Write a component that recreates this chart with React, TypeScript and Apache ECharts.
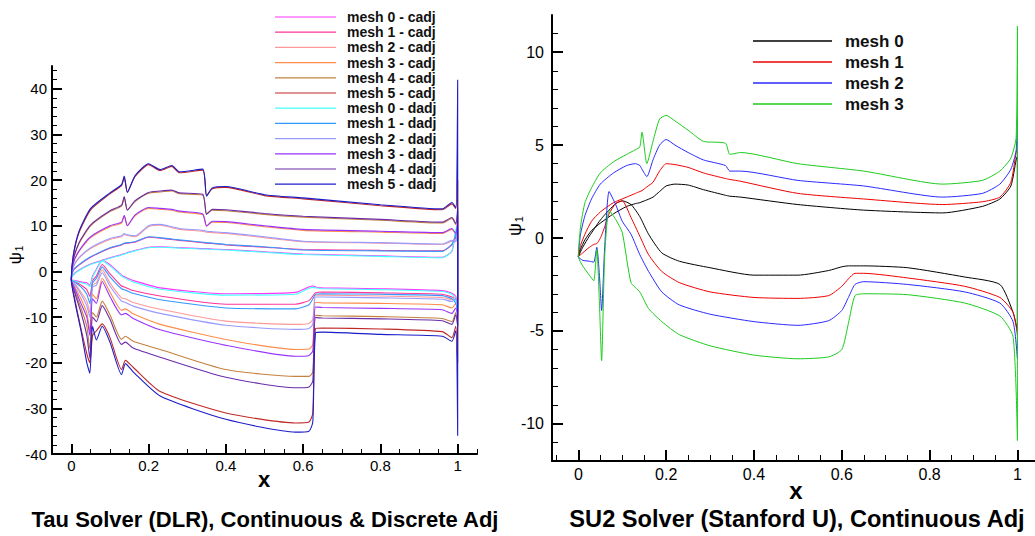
import React, { useEffect, useRef } from 'react';
import * as echarts from 'echarts';

const FONT = 'Arial, "Liberation Sans", Helvetica, sans-serif';

// ---------- tick labels ----------
const xMajor = [0, 0.2, 0.4, 0.6, 0.8, 1];
const xMinor = [-0.05, 0.05, 0.1, 0.15, 0.25, 0.3, 0.35, 0.45, 0.5, 0.55, 0.65, 0.7, 0.75, 0.85, 0.9, 0.95, 1.05];
const yMajorL = [-40, -30, -20, -10, 0, 10, 20, 30, 40];
const yMinorL = [-38, -36, -34, -32, -28, -26, -24, -22, -18, -16, -14, -12, -8, -6, -4, -2, 2, 4, 6, 8, 12, 14, 16, 18, 22, 24, 26, 28, 32, 34, 36, 38, 42, 44];
const yMajorR = [-10, -5, 0, 5, 10];
const yMinorR = [-11, -9, -8, -7, -6, -4, -3, -2, -1, 1, 2, 3, 4, 6, 7, 8, 9, 11];

// ---------- left chart (Tau) ----------
const leftNames = [
  'mesh 0 - cadj', 'mesh 1 - cadj', 'mesh 2 - cadj', 'mesh 3 - cadj', 'mesh 4 - cadj', 'mesh 5 - cadj',
  'mesh 0 - dadj', 'mesh 1 - dadj', 'mesh 2 - dadj', 'mesh 3 - dadj', 'mesh 4 - dadj', 'mesh 5 - dadj',
];
const leftColors = [
  '#ff33ff', '#ff3399', '#ff9999', '#ff8c4a', '#c4813f', '#c02828',
  '#44ffff', '#3399ff', '#9999ff', '#9933ff', '#6a2ca8', '#1c1cc8',
];

const xUpL = [0, 0.005, 0.02, 0.05, 0.1, 0.13, 0.137, 0.145, 0.165, 0.2, 0.23, 0.26, 0.28, 0.34, 0.35, 0.365, 0.4, 0.5, 0.6, 0.8, 0.96, 0.985, 0.995, 1];
const xLoL = [0, 0.01, 0.025, 0.04, 0.048, 0.055, 0.065, 0.08, 0.1, 0.13, 0.14, 0.16, 0.23, 0.4, 0.58, 0.615, 0.625, 0.632, 0.65, 0.8, 0.96, 0.985, 0.995, 1];

const cadj0Up = [-1.8, -0.7, 0.3, 1.6, 3.0, 3.7, 3.9, 4.1, 4.6, 5.3, 5.4, 5.3, 5.2, 5.0, 5.0, 4.9, 4.8, 4.3, 3.8, 3.4, 3.1, 4.4, 8.8, 9.5];
const cadj1Up = [-1.8, 0.2, 1.4, 3.1, 5.1, 5.8, 6.1, 6.2, 6.4, 7.5, 7.3, 7.0, 6.8, 6.3, 6.2, 6.1, 5.8, 5.3, 4.8, 4.6, 4.5, 5.8, 7.5, 9];
const cadj2Up = [-1.8, 0.9, 2.9, 5.0, 7.0, 7.6, 8.1, 7.9, 7.6, 9.8, 10.1, 9.6, 9.2, 8.8, 8.6, 8.5, 8.3, 7.4, 6.5, 6.2, 5.9, 6.6, 6.8, 8];
const cadj3Up = [-1.8, 1.7, 4.4, 7.4, 9.8, 10.6, 12.1, 10.1, 12.2, 13.8, 13.6, 13.4, 13.0, 12.4, 10.0, 10.8, 10.7, 9.8, 9.0, 8.6, 8.3, 9.2, 8.1, 11];
const cadj4Up = [-1.8, 2.4, 6.1, 10.0, 13.1, 14.3, 16.2, 13.5, 15.3, 17.1, 17.4, 17.6, 17.0, 16.7, 12.6, 13.4, 13.3, 12.5, 11.9, 11.2, 10.6, 11.6, 10.3, 13];
const cadj5Up = [-1.8, 3.3, 8.5, 13.5, 17.0, 18.8, 20.6, 17.4, 20.8, 23.4, 22.1, 23.0, 21.6, 22.2, 16.6, 18.1, 18.4, 16.6, 15.9, 14.4, 13.5, 14.8, 13.8, 20];
const dadj0Up = [-1.8, -0.8, 0.2, 1.5, 2.9, 3.6, 3.8, 4.0, 4.5, 5.2, 5.3, 5.2, 5.1, 4.9, 4.9, 4.8, 4.7, 4.2, 3.7, 3.3, 3.0, 4.5, 9.2, 10];
const dadj1Up = [-1.8, 0.3, 1.5, 3.2, 5.2, 5.9, 6.2, 6.3, 6.5, 7.6, 7.4, 7.1, 6.9, 6.4, 6.3, 6.2, 5.9, 5.4, 4.7, 4.5, 4.4, 6.0, 8.0, 9.5];
const dadj2Up = [-1.8, 1.0, 3.0, 5.2, 7.2, 7.8, 8.3, 8.0, 7.8, 10.0, 10.3, 9.8, 9.4, 9.0, 8.8, 8.7, 8.5, 7.6, 6.6, 6.3, 6.0, 6.8, 6.5, 9];
const dadj3Up = [-1.8, 1.8, 4.5, 7.6, 10.0, 10.8, 12.3, 10.0, 12.4, 14.0, 13.8, 13.6, 13.2, 12.6, 9.9, 11.0, 10.9, 10.0, 9.2, 8.8, 8.5, 9.4, 8.3, 12];
const dadj4Up = [-1.8, 2.5, 6.3, 10.2, 13.3, 14.5, 16.4, 13.4, 15.5, 17.3, 17.6, 17.8, 17.2, 16.9, 12.5, 13.6, 13.5, 12.7, 12.1, 11.4, 10.8, 11.8, 10.5, 14];
const dadj5Up = [-1.8, 3.5, 8.8, 13.8, 17.2, 19.0, 20.9, 17.3, 21.0, 23.6, 22.3, 23.2, 21.8, 22.4, 16.5, 18.3, 18.6, 16.8, 16.1, 14.6, 13.7, 15.1, 14.0, 42];

const cadj0Lo = [-1.8, -2.0, -2.3, -2.5, -3.0, -1.0, 0.5, 2.5, 1.5, -0.8, -1.3, -2.0, -3.6, -4.9, -4.6, -3.4, -3.2, -3.4, -3.6, -3.8, -4.2, -4.8, -5.5, -7];
const cadj1Lo = [-1.8, -2.2, -3.0, -4.0, -5.5, -2.0, -1.0, 1.5, -0.5, -3.2, -3.5, -4.2, -5.4, -7.2, -7.2, -6.4, -5.4, -4.7, -4.5, -4.7, -5.0, -5.6, -6, -8];
const cadj2Lo = [-1.8, -2.8, -4.5, -6.5, -9.0, -3.0, -2.5, 0.4, -2.5, -5.8, -6.0, -6.8, -8.3, -10.9, -11.6, -11.4, -10.5, -5.2, -5.2, -5.4, -5.7, -6.2, -5.5, -7];
const cadj3Lo = [-1.8, -3.5, -6.0, -9.0, -13.0, -5.0, -6.0, -1.5, -4.5, -8.5, -8.2, -9.3, -11.6, -14.9, -17.1, -17.0, -16.0, -6.8, -6.9, -7.0, -7.3, -8.0, -7.0, -9];
const cadj4Lo = [-1.8, -4.5, -8.0, -12.0, -17.0, -9.0, -10.0, -6.5, -9.5, -14.9, -14.2, -15.3, -17.1, -21.5, -23.0, -23.0, -22.0, -9.6, -9.7, -9.9, -10.3, -11.0, -9.0, -12];
const cadj5Lo = [-1.8, -6.5, -12.5, -18.0, -20.0, -14.0, -13.0, -11.5, -14.5, -21.5, -19.5, -21.0, -26.3, -31.0, -33.2, -33.0, -31.0, -12.5, -12.4, -12.6, -13.2, -14.5, -12.0, -20];
const dadj0Lo = [-1.8, -2.1, -2.5, -2.8, -3.3, -1.3, 0.3, 2.3, 1.2, -1.0, -1.5, -2.3, -3.9, -5.2, -5.0, -3.7, -3.5, -3.6, -3.8, -4.0, -4.4, -5.0, -6.5, -8.5];
const dadj1Lo = [-1.8, -2.4, -3.4, -5.0, -7.0, -2.5, -1.5, 1.0, -1.2, -3.8, -4.1, -4.8, -6.2, -8.0, -8.2, -7.3, -6.0, -5.0, -4.9, -5.0, -5.3, -6.0, -7, -9];
const dadj2Lo = [-1.8, -3.0, -5.0, -7.5, -10.0, -3.5, -3.0, -0.3, -3.2, -6.5, -6.8, -7.6, -9.2, -11.8, -12.7, -12.5, -11.6, -5.6, -5.6, -5.8, -6.1, -6.6, -6.0, -8];
const dadj3Lo = [-1.8, -4.0, -7.0, -10.0, -14.0, -6.0, -7.0, -2.2, -5.5, -9.5, -9.2, -10.3, -12.8, -16.2, -18.6, -18.4, -17.4, -7.8, -7.9, -8.1, -8.4, -9.2, -8.0, -10];
const dadj4Lo = [-1.8, -5.0, -9.0, -14.0, -19.0, -10.0, -11.0, -7.5, -10.5, -16.0, -15.5, -16.8, -18.8, -23.2, -25.5, -25.3, -24.0, -10.1, -10.2, -10.4, -10.8, -11.6, -9.5, -12];
const dadj5Lo = [-1.8, -7.0, -13.0, -20.0, -22.3, -12.0, -15.0, -12.0, -15.5, -22.6, -20.2, -22.0, -27.3, -32.4, -35.2, -35.0, -33.0, -13.5, -13.3, -13.8, -14.2, -15.3, -13.0, -36];

const leftUp = [cadj0Up, cadj1Up, cadj2Up, cadj3Up, cadj4Up, cadj5Up, dadj0Up, dadj1Up, dadj2Up, dadj3Up, dadj4Up, dadj5Up];
const leftLo = [cadj0Lo, cadj1Lo, cadj2Lo, cadj3Lo, cadj4Lo, cadj5Lo, dadj0Lo, dadj1Lo, dadj2Lo, dadj3Lo, dadj4Lo, dadj5Lo];

// ---------- right chart (SU2) ----------
const rightNames = ['mesh 0', 'mesh 1', 'mesh 2', 'mesh 3'];
const rightColors = ['#000000', '#ee0000', '#2a2aff', '#1ccc1c'];

const xUpR = [0, 0.005, 0.015, 0.03, 0.05, 0.08, 0.11, 0.13, 0.14, 0.145, 0.156, 0.17, 0.185, 0.2, 0.22, 0.25, 0.285, 0.335, 0.345, 0.37, 0.5, 0.65, 0.83, 0.92, 0.96, 0.985, 0.997, 1];
const xLoR = [0, 0.01, 0.025, 0.035, 0.042, 0.048, 0.053, 0.06, 0.07, 0.085, 0.1, 0.12, 0.14, 0.16, 0.19, 0.23, 0.3, 0.4, 0.5, 0.57, 0.6, 0.615, 0.63, 0.65, 0.75, 0.88, 0.96, 0.99, 1];

const m0Up = [-1.0, -0.6, -0.1, 0.4, 0.8, 1.3, 1.7, 1.85, 1.9, 1.95, 2.05, 2.2, 2.5, 2.8, 2.9, 2.85, 2.6, 2.3, 2.25, 2.2, 1.8, 1.5, 1.35, 1.7, 2.1, 2.8, 4.2, 4.4];
const m1Up = [-1.0, -0.4, 0.2, 0.9, 1.4, 1.9, 2.2, 2.4, 2.5, 2.55, 2.75, 3.0, 3.6, 4.0, 3.95, 3.8, 3.5, 3.2, 3.15, 3.05, 2.4, 2.1, 1.8, 1.95, 2.2, 3.0, 4.6, 4.8];
const m2Up = [-1.0, 0.2, 1.2, 2.1, 2.9, 3.5, 3.9, 4.0, 3.9, 3.7, 3.3, 4.2, 5.0, 5.3, 5.0, 4.6, 4.2, 3.9, 3.6, 3.6, 3.1, 2.8, 2.2, 2.4, 2.9, 3.7, 4.7, 6.4];
const m3Up = [-1.0, 0.6, 1.9, 2.7, 3.5, 4.1, 4.5, 4.75, 4.9, 5.7, 4.0, 5.2, 6.4, 6.6, 6.3, 5.8, 5.2, 5.1, 4.5, 4.6, 4.0, 3.6, 2.9, 3.1, 3.6, 4.3, 5.4, 11.4];

const m0Lo = [-1.0, -0.5, 0.1, 0.45, 0.7, 0.9, 1.05, 1.25, 1.5, 1.85, 2.0, 1.8, 1.15, 0.2, -0.8, -1.25, -1.6, -2.0, -2.0, -1.75, -1.55, -1.5, -1.5, -1.5, -1.6, -2.1, -2.5, -4.0, -5.0];
const m1Lo = [-1.0, -0.8, -0.5, -0.35, -0.3, -0.1, 0.15, 0.6, 1.3, 1.85, 2.0, 1.1, 0.1, -0.9, -1.8, -2.4, -2.9, -3.2, -3.25, -3.1, -2.6, -2.2, -1.9, -1.9, -2.15, -2.6, -3.2, -4.0, -5.2];
const m2Lo = [-1.0, -1.2, -1.25, -1.3, -0.5, -2.0, -3.9, -0.5, 2.5, 1.8, 0.9, 0.2, -0.9, -1.8, -2.9, -3.6, -4.1, -4.5, -4.7, -4.45, -3.9, -3.2, -2.5, -2.35, -2.5, -2.9, -3.5, -4.5, -6.5];
const m3Lo = [-1.0, -1.5, -2.0, -2.3, -0.6, -3.5, -6.6, -1.0, 1.5, 1.0, 0.3, -2.4, -2.9, -3.8, -4.5, -5.2, -5.8, -6.3, -6.5, -6.4, -6.0, -4.6, -3.1, -3.0, -3.05, -3.5, -4.2, -5.3, -10.9];

const rightUp = [m0Up, m1Up, m2Up, m3Up];
const rightLo = [m0Lo, m1Lo, m2Lo, m3Lo];

// closed contour: upper surface from trailing edge to leading edge, then lower surface back, closing at TE
function contour(xu: number[], yu: number[], xl: number[], yl: number[]) {
  const pts: number[][] = [];
  for (let i = xu.length - 1; i >= 0; i--) pts.push([xu[i], yu[i]]);
  for (let i = 1; i < xl.length; i++) pts.push([xl[i], yl[i]]);
  pts.push([xu[xu.length - 1], yu[yu.length - 1]]);
  return pts;
}

const fmt = (v: number) => String(Math.round(v * 100) / 100);

function axisPair(grid: number, dim: 'x' | 'y', min: number, max: number, major: number[], minor: number[], fontSize: number, margin: number, majorLen: number, minorLen: number) {
  const main: any = {
    gridIndex: grid, type: 'value', min, max,
    position: dim === 'x' ? 'bottom' : 'left',
    axisLine: { show: true, onZero: false, lineStyle: { color: '#000', width: 2 } },
    axisTick: { show: true, inside: true, length: majorLen, customValues: major, lineStyle: { color: '#000', width: 2 } },
    axisLabel: { show: true, customValues: major, formatter: fmt, fontSize, color: '#000', fontFamily: FONT, margin },
    splitLine: { show: false },
  };
  const sub: any = {
    gridIndex: grid, type: 'value', min, max,
    position: dim === 'x' ? 'bottom' : 'left',
    axisLine: { show: false, onZero: false },
    axisTick: { show: true, inside: true, length: minorLen, customValues: minor, lineStyle: { color: '#000', width: 1 } },
    axisLabel: { show: false },
    splitLine: { show: false },
  };
  return [main, sub];
}

function buildOption() {
  const xAxes = [
    ...axisPair(0, 'x', -0.05, 1.05, xMajor, xMinor, 15, 4, 10, 5),
    ...axisPair(1, 'x', -0.06, 1.04, xMajor, xMinor, 16, 5, 11, 6),
  ];
  const yAxes = [
    ...axisPair(0, 'y', -40, 45, yMajorL, yMinorL, 15, 5, 10, 5),
    ...axisPair(1, 'y', -12, 12, yMajorR, yMinorR, 16, 8, 11, 6),
  ];
  const series: any[] = [];
  leftNames.forEach((name, i) => {
    series.push({
      name, type: 'line', xAxisIndex: 0, yAxisIndex: 0, symbol: 'none', showSymbol: false,
      smooth: 0.2,
      data: contour(xUpL, leftUp[i], xLoL, leftLo[i]),
      lineStyle: { color: leftColors[i], width: 1.1 }, itemStyle: { color: leftColors[i] },
      emphasis: { disabled: true }, clip: true,
    });
  });
  rightNames.forEach((name, i) => {
    series.push({
      name, type: 'line', xAxisIndex: 2, yAxisIndex: 2, symbol: 'none', showSymbol: false,
      smooth: 0.2,
      data: contour(xUpR, rightUp[i], xLoR, rightLo[i]),
      lineStyle: { color: rightColors[i], width: 1 }, itemStyle: { color: rightColors[i] },
      emphasis: { disabled: true }, clip: true,
    });
  });

  const psi = (x: number, y: number, a: number, b: number) => ({
    type: 'text', x, y, rotation: Math.PI / 2,
    style: {
      text: '{a|ψ}{b|1}', align: 'center', verticalAlign: 'middle',
      rich: {
        a: { fontSize: a, fontFamily: FONT, fill: '#000' },
        b: { fontSize: b, fontFamily: FONT, fill: '#000', padding: [Math.round(a * 0.45), 0, 0, 1] },
      },
    },
  });
  const txt = (x: number, y: number, text: string, fontSize: number) => ({
    type: 'text', x, y,
    style: { text, fontSize, fontWeight: 'bold', fontFamily: FONT, fill: '#000', align: 'center', verticalAlign: 'middle' },
  });

  return {
    animation: false,
    backgroundColor: '#ffffff',
    grid: [
      { left: 52, top: 66, width: 425, height: 388 },
      { left: 552, top: 15, width: 485, height: 446 },
    ],
    xAxis: xAxes,
    yAxis: yAxes,
    legend: [
      {
        data: leftNames, orient: 'vertical', left: 275, top: 10, padding: 0,
        icon: 'rect', itemWidth: 61, itemHeight: 1.2, itemGap: 1.2, selectedMode: false,
        textStyle: { fontSize: 14, fontWeight: 'bold', fontFamily: FONT, color: '#111', lineHeight: 14, padding: [0, 0, 0, 6] },
      },
      {
        data: rightNames, orient: 'vertical', left: 753, top: 31, padding: 0,
        icon: 'rect', itemWidth: 79, itemHeight: 1.3, itemGap: 1, selectedMode: false,
        textStyle: { fontSize: 17, fontWeight: 'bold', fontFamily: FONT, color: '#111', lineHeight: 20, padding: [0, 0, 0, 8] },
      },
    ],
    graphic: [
      psi(15, 255, 17, 10),
      psi(515, 226, 18, 11),
      txt(264, 479, 'x', 22),
      txt(796, 490, 'x', 24),
      txt(265, 519, 'Tau Solver (DLR), Continuous & Discrete Adj', 22),
      txt(797, 519, 'SU2 Solver (Stanford U), Continuous Adj', 23.6),
    ],
    series,
  };
}

export default function App() {
  const ref = useRef<HTMLDivElement>(null);
  useEffect(() => {
    const chart = echarts.init(ref.current!, null, { renderer: 'svg' });
    chart.setOption(buildOption() as any);
    return () => chart.dispose();
  }, []);
  return (
    <div
      ref={ref}
      style={{ position: 'absolute', left: 0, top: 0, width: 1035, height: 536, background: '#fff' }}
    />
  );
}
